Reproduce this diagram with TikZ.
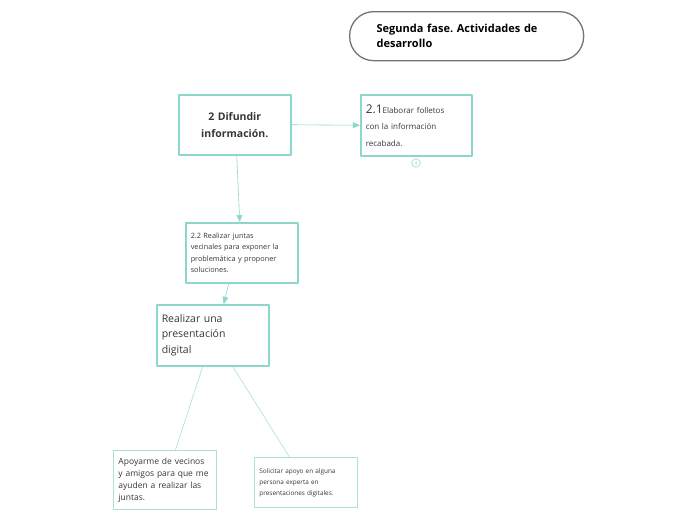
\documentclass[tikz,border=0pt]{standalone}
\usepackage{fontspec}
\setmainfont{Open Sans}
\usepackage{tikz}
\usetikzlibrary{arrows}
\definecolor{menta}{RGB}{140,214,202}
\definecolor{mentaclara}{RGB}{170,224,215}
\definecolor{tinta}{RGB}{55,55,55}
\frenchspacing
\tikzset{
  caja/.style={draw=menta,line width=1.5pt,anchor=north west,inner xsep=5pt,inner ysep=0pt,text=tinta},
  hoja/.style={draw=mentaclara,line width=0.9pt,anchor=north west,inner xsep=5pt,inner ysep=0pt,text=tinta},
  enlace/.style={draw=menta,line width=0.6pt}
}
\begin{document}
\begin{tikzpicture}[line cap=round,line join=round,>=triangle 45,x=1pt,y=-1pt]
                \useasboundingbox (0,0) rectangle (697,520);
                % titulo
                \node [draw=black!55,line width=1.3pt,rounded corners=24pt,anchor=north west,minimum width=234pt,minimum height=49pt,inner xsep=27pt,text width=180pt,align=left,font=\fontsize{11}{15}\selectfont\bfseries] (titulo) at (349,11) {Segunda fase. Actividades de\\desarrollo};
                % cajas
                \node [caja,minimum width=112pt,minimum height=60pt,text width=100pt,align=center,font=\fontsize{10.5}{17}\selectfont\bfseries] (difundir) at (178,94) {2 Difundir\\información.};
                \node [caja,minimum width=111pt,minimum height=61pt,text width=101pt,align=left,font=\fontsize{8}{16.5}\selectfont] (folletos) at (360,94) {{\fontsize{12}{16}\selectfont 2.1}Elaborar folletos\\con la información\\recabada.};
                \node [caja,minimum width=112pt,minimum height=60pt,text width=102pt,align=left,font=\fontsize{7.3}{11.5}\selectfont] (juntas) at (185,222) {2.2 Realizar juntas\\vecinales para exponer la\\problemática y proponer\\soluciones.};
                \node [caja,minimum width=112pt,minimum height=61pt,text width=102pt,align=left,font=\fontsize{10.5}{15.5}\selectfont] (presenta) at (156,304) {Realizar una\\presentación\\digital};
                \node [hoja,minimum width=103pt,minimum height=59pt,text width=93pt,align=left,font=\fontsize{8.5}{12}\selectfont] (apoyo) at (113,450) {Apoyarme de vecinos\\y amigos para que me\\ayuden a realizar las\\juntas.};
                \node [hoja,minimum width=103pt,minimum height=50pt,text width=93pt,align=left,font=\fontsize{6.4}{11}\selectfont] (experta) at (254,457) {Solicitar apoyo en alguna\\persona experta en\\presentaciones digitales.};
                \node [circle,draw=mentaclara,line width=0.8pt,inner sep=0pt,minimum size=8.5pt,text=mentaclara,font=\fontsize{6}{6}\selectfont] (cuatro) at (416,163) {4};
                % conexiones
                \draw [enlace,->] (difundir.east) -- (folletos.west);
                \draw [enlace,->] ([xshift=2pt]difundir.south) -- ([xshift=-2pt]juntas.north);
                \draw [enlace,->] ([xshift=-13pt]juntas.south) -- ([xshift=11pt]presenta.north);
                \draw [enlace,draw=mentaclara] ([xshift=-10pt]presenta.south) -- ([xshift=10.5pt]apoyo.north);
                \draw [enlace,draw=mentaclara] ([xshift=20pt]presenta.south) -- ([xshift=-16.5pt]experta.north);
\end{tikzpicture}
\end{document}
